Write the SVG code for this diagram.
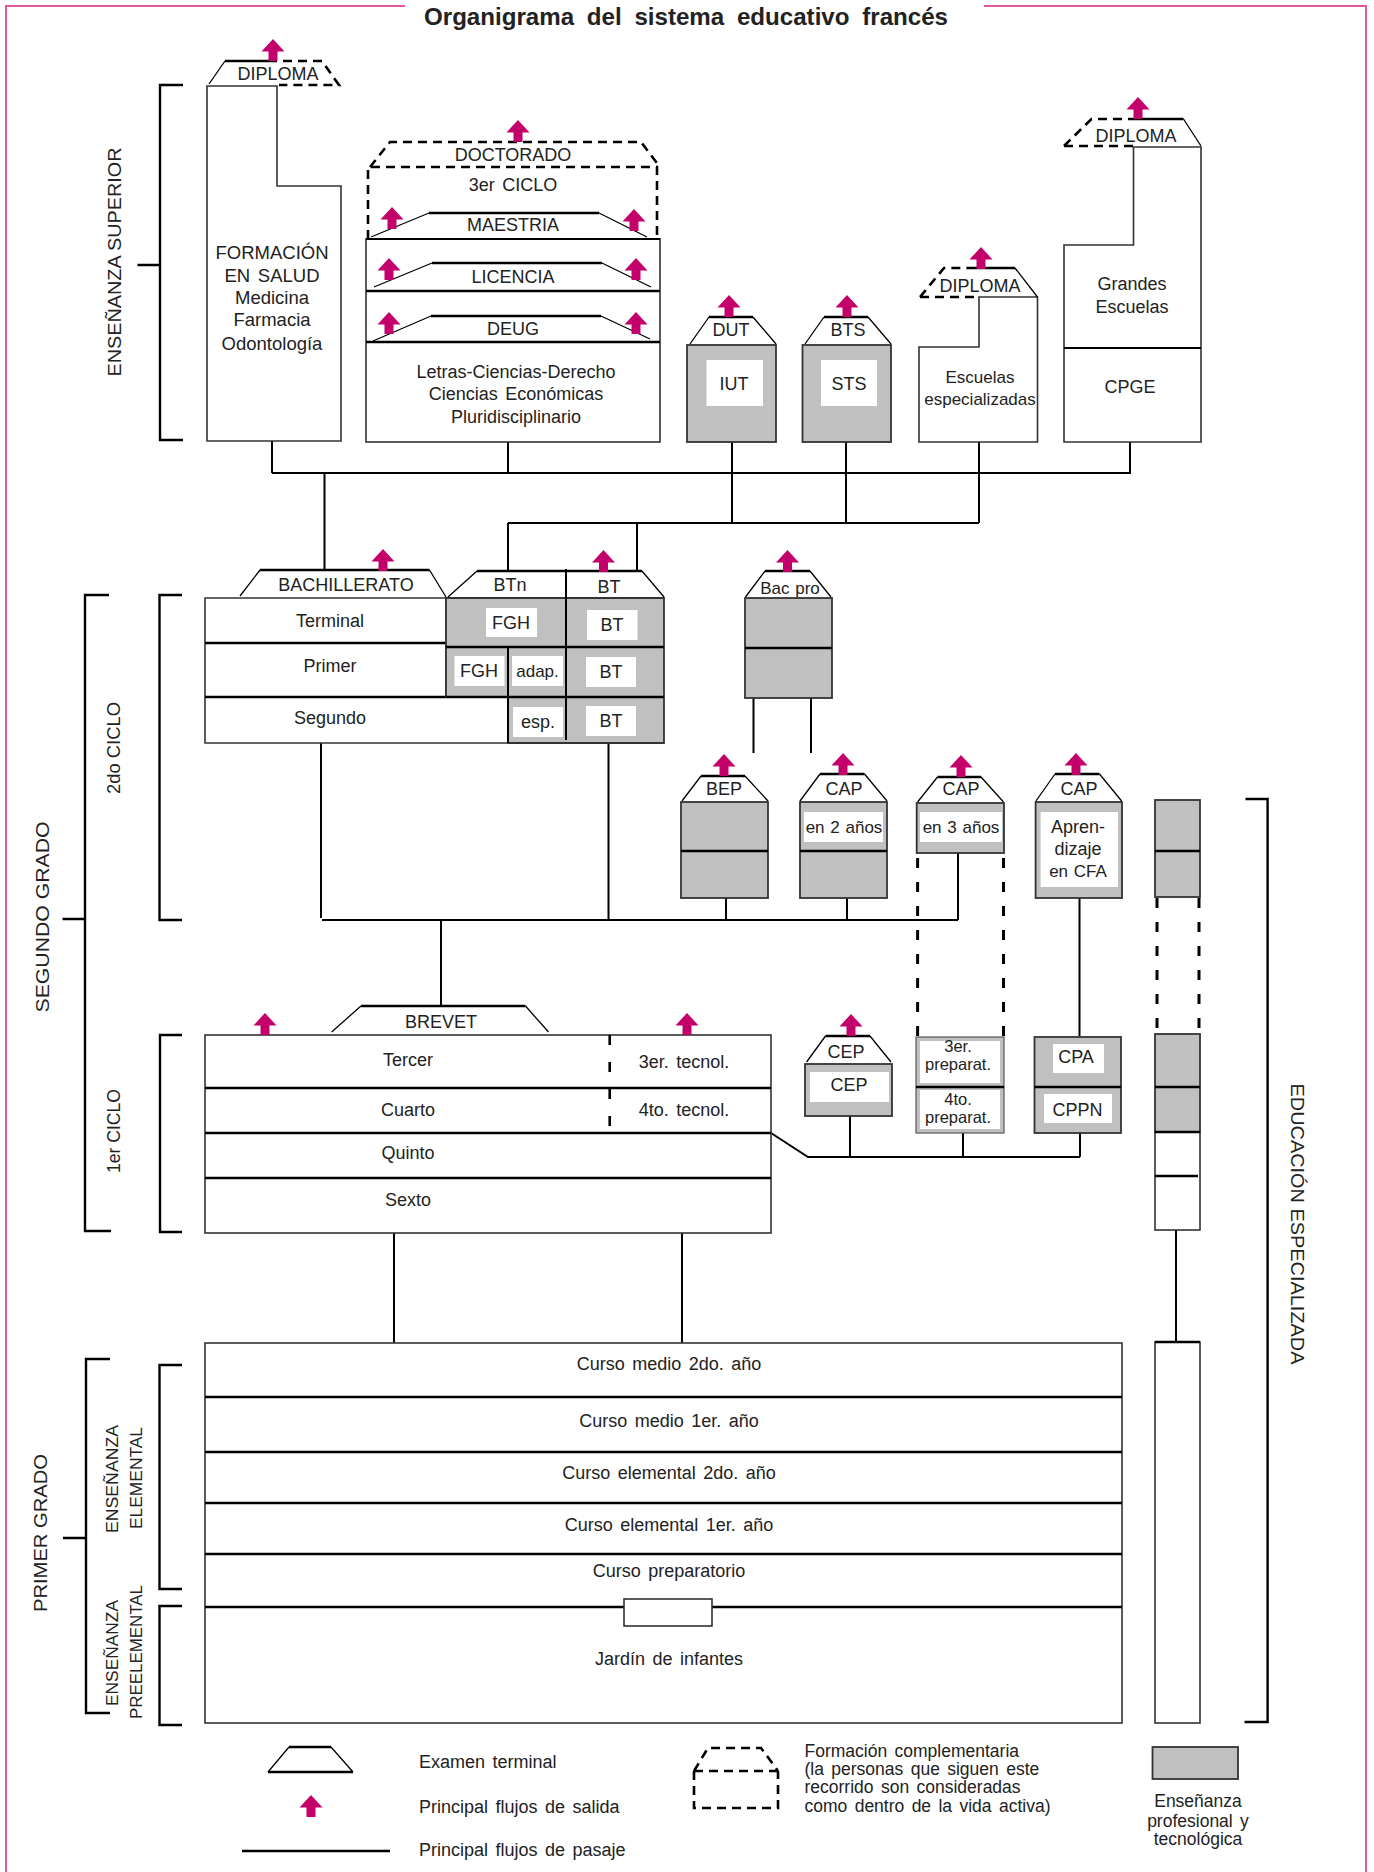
<svg xmlns="http://www.w3.org/2000/svg" xmlns:xlink="http://www.w3.org/1999/xlink" width="1374" height="1872" viewBox="0 0 1374 1872">
<style>
text{font-family:"Liberation Sans",Arial,sans-serif;font-size:18px;fill:#222;text-anchor:middle;word-spacing:2.5px}
.st{text-anchor:start}
.sm{font-size:17px;word-spacing:1px}
.rot{font-size:19px;dominant-baseline:central;word-spacing:0}
.box{fill:#fff;stroke:#333;stroke-width:1.6}
.gray{fill:#c0c0c0;stroke:#333;stroke-width:1.8}
.wb{fill:#fff;stroke:none}
.ln{fill:none;stroke:#000;stroke-width:2}
.thick{fill:none;stroke:#000;stroke-width:2.6}
.side{fill:none;stroke:#000;stroke-width:1.3}
.dash{fill:none;stroke:#000;stroke-width:2.6;stroke-dasharray:9 6}
.vdash{fill:none;stroke:#000;stroke-width:3;stroke-dasharray:10 14}
.br{fill:none;stroke:#000;stroke-width:2.4}
</style>
<defs>
<path id="arr" d="M0,0 L11.5,12.5 L4.5,12.5 L4.5,22 L-4.5,22 L-4.5,12.5 L-11.5,12.5 Z" fill="#c4006b"/>
</defs>
<rect width="1374" height="1872" fill="#fff"/>
<g id="frame">
<path d="M405,6 H6 V1872 M984,6 H1366 V1872" fill="none" stroke="#e0579e" stroke-width="2"/>
<text x="686" y="25" style="font-size:24px;font-weight:bold;word-spacing:6px" textLength="524" lengthAdjust="spacingAndGlyphs">Organigrama del sistema educativo francés</text>
</g>

<g id="brackets">
<path class="br" d="M183,85 H160 V440 H183 M137.5,265 H160"/>
<path class="br" d="M109,595 H85 V1231 H111 M62.5,919 H85"/>
<path class="br" d="M182,595 H159.5 V920 H182"/>
<path class="br" d="M182,1035 H160 V1232 H182"/>
<path class="br" d="M110,1359 H86 V1713 H110 M63,1538 H86"/>
<path class="br" d="M182,1365 H159.5 V1589 H182"/>
<path class="br" d="M182,1606 H159.5 V1725 H182"/>
<path class="br" d="M1245.5,799 H1267.6 V1722 H1244.5"/>
<text class="rot" transform="translate(114,262) rotate(-90)" textLength="229" lengthAdjust="spacingAndGlyphs">ENSEÑANZA SUPERIOR</text>
<text class="rot" transform="translate(42,917) rotate(-90)" textLength="191" lengthAdjust="spacingAndGlyphs">SEGUNDO GRADO</text>
<text class="rot" transform="translate(113,748) rotate(-90)" textLength="92" lengthAdjust="spacingAndGlyphs">2do CICLO</text>
<text class="rot" transform="translate(113,1131) rotate(-90)" textLength="84" lengthAdjust="spacingAndGlyphs">1er CICLO</text>
<text class="rot" transform="translate(40,1533) rotate(-90)" textLength="158" lengthAdjust="spacingAndGlyphs">PRIMER GRADO</text>
<text class="rot" transform="translate(112,1479) rotate(-90)" style="font-size:16px" textLength="108" lengthAdjust="spacingAndGlyphs">ENSEÑANZA</text>
<text class="rot" transform="translate(136,1478) rotate(-90)" style="font-size:16px" textLength="102" lengthAdjust="spacingAndGlyphs">ELEMENTAL</text>
<text class="rot" transform="translate(112,1653) rotate(-90)" style="font-size:16px" textLength="106" lengthAdjust="spacingAndGlyphs">ENSEÑANZA</text>
<text class="rot" transform="translate(136,1652) rotate(-90)" style="font-size:16px" textLength="134" lengthAdjust="spacingAndGlyphs">PREELEMENTAL</text>
<text class="rot" transform="translate(1297,1224) rotate(90)" textLength="281" lengthAdjust="spacingAndGlyphs">EDUCACIÓN ESPECIALIZADA</text>
</g>

<g id="connectors">
<path class="ln" d="M272,441 V473 M508,442 V473 M272,473 H1131 M1130,442 V473 M732,442 V523 M846,442 V523 M979,442 V523 M508,523 H979 M508,523 V570 M637,523 V571 M324.5,473 V570"/>
<path class="ln" d="M321,743 V918 M608.5,743 V920 M322,920 H958 M958,853 V920 M726,898 V920 M847,898 V920 M441,920 V1006"/>
<path class="ln" d="M753.5,698 V753 M811,698 V753 M1079.5,898 V1036"/>
<path class="vdash" d="M917.6,858 V1036 M1003.5,858 V1036 M1157,898 V1034 M1199,898 V1034"/>
<path class="ln" d="M771,1133 L808,1157 H1080 M850,1116 V1157 M963,1133 V1157 M1080,1133 V1157"/>
<path class="ln" d="M394,1233 V1343 M682,1233 V1343 M1176,1230 V1342"/>
</g>

<g id="formacion-salud">
<path class="box" d="M207,86 H277 V186 H341 V441 H207 Z"/>
<path class="side" d="M209,84 L225,61"/>
<path class="thick" d="M225,61 H268"/>
<path class="dash" d="M268,61 H322 L339,85 H279"/>
<text x="278" y="80">DIPLOMA</text>
<use xlink:href="#arr" x="273" y="39"/>
<text x="272" y="259" style="font-size:18.5px">FORMACIÓN</text>
<text x="272" y="282" style="font-size:18.5px">EN SALUD</text>
<text x="272" y="304" style="font-size:18.5px">Medicina</text>
<text x="272" y="326" style="font-size:18.5px">Farmacia</text>
<text x="272" y="350" style="font-size:18.5px">Odontología</text>
</g>

<g id="universidad">
<rect class="box" x="366" y="239" width="294" height="203"/>
<path class="ln" d="M366,239 H660"/>
<path class="thick" d="M366,291 H660 M366,342 H660"/>
<path class="dash" d="M368,239 V167 H657 V239 M370,167 L390,142 H641 L660,167"/>
<text x="513" y="161">DOCTORADO</text>
<use xlink:href="#arr" x="518" y="120"/>
<text x="513" y="191">3er CICLO</text>
<path class="side" d="M371,237 L429,213 M599,213 L647,237 M374,287 L432,263 M602,263 L651,287 M373,341 L431,316 M601,316 L650,339"/>
<path class="thick" d="M429,213 H599 M432,263 H602 M431,316 H601"/>
<text x="513" y="231">MAESTRIA</text>
<text x="513" y="283">LICENCIA</text>
<text x="513" y="335">DEUG</text>
<use xlink:href="#arr" x="392" y="207"/>
<use xlink:href="#arr" x="634" y="209"/>
<use xlink:href="#arr" x="389" y="258"/>
<use xlink:href="#arr" x="636" y="258"/>
<use xlink:href="#arr" x="389" y="312"/>
<use xlink:href="#arr" x="636" y="312"/>
<text x="516" y="378">Letras-Ciencias-Derecho</text>
<text x="516" y="400">Ciencias Económicas</text>
<text x="516" y="423">Pluridisciplinario</text>
</g>

<g id="iut">
<rect class="gray" x="687" y="345" width="89" height="97"/>
<rect class="wb" x="706.5" y="360" width="56.5" height="46"/>
<path class="side" d="M690,344 L709,317 M753,317 L776,344"/>
<path class="thick" d="M709,317 H753"/>
<text x="731" y="336">DUT</text>
<use xlink:href="#arr" x="729" y="295"/>
<text x="734" y="390">IUT</text>
</g>

<g id="sts">
<rect class="gray" x="802.5" y="345" width="88.5" height="97"/>
<rect class="wb" x="821" y="360" width="56" height="46"/>
<path class="side" d="M805,344 L824,317 M868,317 L891,344"/>
<path class="thick" d="M824,317 H868"/>
<text x="848" y="336">BTS</text>
<use xlink:href="#arr" x="847" y="295"/>
<text x="849" y="390">STS</text>
</g>

<g id="escuelas-especializadas">
<path class="box" d="M919,347 H979 V297 H1037.5 V442 H919 Z"/>
<path class="dash" d="M920,297 L944,268 H968 M920,297 H976"/>
<path class="thick" d="M968,268 H1015"/>
<path class="side" d="M1015,268 L1037.5,297"/>
<text x="980" y="292">DIPLOMA</text>
<use xlink:href="#arr" x="981" y="247"/>
<text x="980" y="383" class="sm">Escuelas</text>
<text x="980" y="405" class="sm">especializadas</text>
</g>

<g id="grandes-escuelas">
<path class="box" d="M1064,245 H1133.5 V147 H1201 V442 H1064 Z"/>
<path class="ln" d="M1064,348 H1201"/>
<path class="dash" d="M1064,146 L1091.5,119 H1131 M1064,146 H1133.5"/>
<path class="thick" d="M1131,119 H1183.5"/>
<path class="side" d="M1183.5,119 L1201,146"/>
<text x="1136" y="142">DIPLOMA</text>
<use xlink:href="#arr" x="1138" y="97"/>
<text x="1132" y="290">Grandes</text>
<text x="1132" y="313">Escuelas</text>
<text x="1130" y="393">CPGE</text>
</g>

<g id="bachillerato">
<path class="box" d="M205,598 H446 V697 H508 V743 H205 Z"/>
<path class="thick" d="M205,643 H446 M205,697 H446"/>
<path class="side" d="M240,596 L260,570 M429.5,570 L446,597"/>
<path class="thick" d="M260,570 H429.5"/>
<text x="346" y="591">BACHILLERATO</text>
<use xlink:href="#arr" x="383" y="549"/>
<text x="330" y="627">Terminal</text>
<text x="330" y="672">Primer</text>
<text x="330" y="724">Segundo</text>
</g>

<g id="bachillerato-tecnologico">
<path class="gray" d="M446,598 H664 V743 H508 V697 H446 Z"/>
<path class="thick" d="M446,647 H664 M446,697 H664"/>
<path class="ln" d="M508,647 V743 M566,569 V740"/>
<path class="side" d="M448,597 L477,571 M642,571 L664,597"/>
<path class="thick" d="M477,571 H642"/>
<text x="510" y="591">BTn</text>
<text x="609" y="593">BT</text>
<use xlink:href="#arr" x="603.5" y="550"/>
<rect class="wb" x="486" y="608" width="51" height="29"/>
<rect class="wb" x="587" y="610" width="50.5" height="30"/>
<rect class="wb" x="454.5" y="656" width="50" height="30"/>
<rect class="wb" x="512" y="656" width="51" height="30"/>
<rect class="wb" x="586" y="657" width="50" height="30"/>
<rect class="wb" x="513" y="707" width="50" height="30"/>
<rect class="wb" x="586" y="706" width="50" height="30"/>
<text x="511" y="629">FGH</text>
<text x="612" y="631">BT</text>
<text x="479" y="677">FGH</text>
<text x="537.5" y="677" class="sm">adap.</text>
<text x="611" y="678">BT</text>
<text x="538" y="728">esp.</text>
<text x="611" y="727">BT</text>
</g>

<g id="bac-pro">
<rect class="gray" x="745" y="598" width="87" height="100"/>
<path class="thick" d="M745,648 H832"/>
<path class="side" d="M745.5,597 L765,571 M810,571 L831,597"/>
<path class="thick" d="M765,571 H810"/>
<text x="790" y="594" class="sm">Bac pro</text>
<use xlink:href="#arr" x="787.5" y="550"/>
</g>

<g id="bep">
<rect class="gray" x="681" y="802" width="87" height="96"/>
<path class="thick" d="M681,851 H768"/>
<path class="side" d="M682,801 L701,776 M745,776 L768,801"/>
<path class="thick" d="M701,776 H745"/>
<text x="724" y="795">BEP</text>
<use xlink:href="#arr" x="724" y="754"/>
</g>

<g id="cap-2-anos">
<rect class="gray" x="800" y="802" width="87" height="96"/>
<path class="thick" d="M800,851 H887"/>
<rect class="wb" x="804" y="812" width="79" height="30"/>
<path class="side" d="M800,801 L820,774 M864.5,774 L887,801"/>
<path class="thick" d="M820,774 H864.5"/>
<text x="844" y="795">CAP</text>
<use xlink:href="#arr" x="843" y="753"/>
<text x="844" y="833" class="sm">en 2 años</text>
</g>

<g id="cap-3-anos">
<rect class="gray" x="916.7" y="803" width="87.3" height="50"/>
<rect class="wb" x="920" y="812" width="82" height="30"/>
<path class="side" d="M917.6,802 L937.5,777 M981,777 L1003.5,802"/>
<path class="thick" d="M937.5,777 H981"/>
<text x="961" y="795">CAP</text>
<use xlink:href="#arr" x="961" y="755"/>
<text x="961" y="833" class="sm">en 3 años</text>
</g>

<g id="cap-aprendizaje">
<rect class="gray" x="1035.6" y="802" width="86.4" height="96"/>
<rect class="wb" x="1040.6" y="812" width="77.4" height="75"/>
<path class="side" d="M1036,801 L1055,774 M1099.5,774 L1121.6,801"/>
<path class="thick" d="M1055,774 H1099.5"/>
<text x="1079" y="795">CAP</text>
<use xlink:href="#arr" x="1076" y="753"/>
<text x="1078" y="833">Apren-</text>
<text x="1078" y="855">dizaje</text>
<text x="1078" y="877" class="sm">en CFA</text>
</g>

<g id="educacion-especializada">
<rect class="gray" x="1155" y="800" width="45" height="97"/>
<path class="thick" d="M1155,851 H1200"/>
<rect class="gray" x="1155" y="1034" width="45" height="98"/>
<path class="thick" d="M1155,1087 H1200"/>
<rect class="box" x="1155" y="1132" width="45" height="98"/>
<path class="thick" d="M1155,1132 H1200 M1155,1176 H1198"/>
<rect class="box" x="1155" y="1342" width="45" height="381"/>
<path class="thick" d="M1155,1342 H1200"/>
</g>

<g id="primer-ciclo">
<rect class="box" x="205" y="1035" width="566" height="198"/>
<path class="thick" d="M205,1088 H771 M205,1133 H771 M205,1178 H771"/>
<path fill="none" stroke="#000" stroke-width="2.6" stroke-dasharray="10 17" d="M609.7,1035 V1133"/>
<path class="side" d="M331.6,1032 L361,1006 M525.5,1006 L548.5,1032"/>
<path class="thick" d="M361,1006 H525.5"/>
<text x="441" y="1028">BREVET</text>
<use xlink:href="#arr" x="265" y="1013"/>
<use xlink:href="#arr" x="687" y="1013"/>
<text x="408" y="1066">Tercer</text>
<text x="684" y="1068">3er. tecnol.</text>
<text x="408" y="1116">Cuarto</text>
<text x="684" y="1116">4to. tecnol.</text>
<text x="408" y="1159">Quinto</text>
<text x="408" y="1206">Sexto</text>
</g>

<g id="cep">
<rect class="gray" x="805" y="1064" width="87" height="52"/>
<rect class="wb" x="810" y="1072" width="79" height="30"/>
<path class="side" d="M806.6,1062 L825.5,1036 M870,1036 L891,1062"/>
<path class="thick" d="M825.5,1036 H870"/>
<text x="846" y="1058">CEP</text>
<use xlink:href="#arr" x="851" y="1014"/>
<text x="849" y="1091">CEP</text>
</g>

<g id="preparatorio">
<rect class="gray" x="916" y="1037" width="88" height="96" style="stroke:#555;stroke-width:1.2"/>
<rect class="wb" x="920" y="1041" width="80" height="42"/>
<rect class="wb" x="920" y="1090" width="80" height="39"/>
<path class="thick" d="M916,1087 H1004"/>
<text x="958" y="1052" style="font-size:16.5px">3er.</text>
<text x="958" y="1070" style="font-size:16.5px">preparat.</text>
<text x="958" y="1105" style="font-size:16.5px">4to.</text>
<text x="958" y="1123" style="font-size:16.5px">preparat.</text>
</g>

<g id="cpa-cppn">
<rect class="gray" x="1034.5" y="1037" width="86.5" height="96"/>
<path class="thick" d="M1034.5,1087 H1121"/>
<rect class="wb" x="1053" y="1044" width="51" height="29"/>
<rect class="wb" x="1044" y="1094" width="68" height="29"/>
<text x="1076" y="1063">CPA</text>
<text x="1077.5" y="1116">CPPN</text>
</g>

<g id="primer-grado">
<rect class="box" x="205" y="1343" width="917" height="380"/>
<path class="thick" d="M205,1397 H1122 M205,1452 H1122 M205,1503 H1122 M205,1554 H1122 M205,1607 H1122"/>
<rect class="box" x="624" y="1599" width="88" height="27"/>
<text x="669" y="1370">Curso medio 2do. año</text>
<text x="669" y="1427">Curso medio 1er. año</text>
<text x="669" y="1479">Curso elemental 2do. año</text>
<text x="669" y="1531">Curso elemental 1er. año</text>
<text x="669" y="1577">Curso preparatorio</text>
<text x="669" y="1665">Jardín de infantes</text>
</g>

<g id="legend">
<path class="side" d="M268,1772 L289,1747 M331,1747 L353,1772"/>
<path class="thick" d="M289,1747 H331 M268,1772 H353"/>
<text class="st" x="419" y="1768">Examen terminal</text>
<use xlink:href="#arr" x="311" y="1795"/>
<text class="st" x="419" y="1813">Principal flujos de salida</text>
<path class="thick" d="M242,1851 H390"/>
<text class="st" x="419" y="1856">Principal flujos de pasaje</text>
<path class="dash" d="M694,1771 L708,1748 H761 L778,1771 M694,1771 H778 M694,1771 V1808 H778 V1771"/>
<text class="st" x="804.5" y="1757" style="font-size:17.5px">Formación complementaria</text>
<text class="st" x="804.5" y="1775" style="font-size:17.5px">(la personas que siguen este</text>
<text class="st" x="804.5" y="1793" style="font-size:17.5px">recorrido son consideradas</text>
<text class="st" x="804.5" y="1812" style="font-size:17.5px">como dentro de la vida activa)</text>
<rect class="gray" x="1152.5" y="1747" width="85.5" height="32"/>
<text x="1198" y="1807" style="font-size:17.5px">Enseñanza</text>
<text x="1198" y="1827" style="font-size:17.5px">profesional y</text>
<text x="1198" y="1845" style="font-size:17.5px">tecnológica</text>
</g>
</svg>
